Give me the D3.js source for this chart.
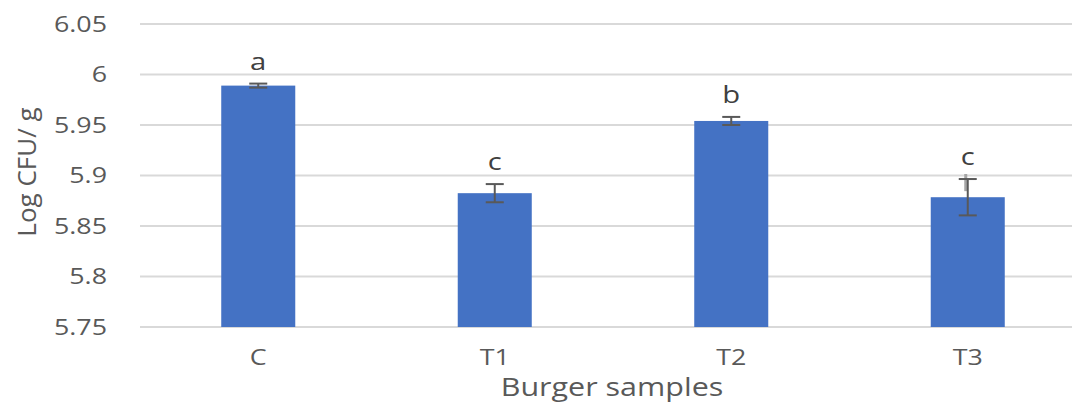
<!DOCTYPE html>
<html>
<head>
<meta charset="utf-8">
<script src="https://cdn.jsdelivr.net/npm/d3@7"></script>
<style>
  html, body { margin: 0; padding: 0; background: #fff; }
  svg { display: block; font-family: "Open Sans", sans-serif; }
</style>
</head>
<body>
<svg id="chart" width="1072" height="403"></svg>
<script>
// Microbial counts per burger sample
const categories = ["C", "T1", "T2", "T3"];
const means = [5.989, 5.8825, 5.954, 5.8785];
const errors = [0.002, 0.009, 0.004, 0.018];
const letters = ["a", "c", "b", "c"];
const yTicks = [5.75, 5.8, 5.85, 5.9, 5.95, 6, 6.05];

const svg = d3.select("#chart");

const x = d3.scaleBand()
  .domain(categories)
  .range([140, 1086])
  .paddingInner(0.687)
  .paddingOuter(0.3435);

const y = d3.scaleLinear()
  .domain([5.75, 6.05])
  .range([327, 24]);

const textColor = "#595959";
const stretch = 1.22;

// widen text horizontally around its own box
function widen(sel, origin) {
  sel.style("transform-box", "fill-box")
    .style("transform-origin", origin)
    .style("transform", `scaleX(${stretch})`);
}

// horizontal gridlines
svg.append("g")
  .selectAll("line")
  .data(yTicks)
  .join("line")
  .attr("x1", 140).attr("x2", 1072)
  .attr("y1", d => y(d)).attr("y2", d => y(d))
  .attr("stroke", "#d9d9d9")
  .attr("stroke-width", 2);

// y tick labels
const yAxis = d3.axisLeft(y)
  .tickValues(yTicks)
  .tickFormat(d => String(+d.toFixed(2)))
  .tickSize(0)
  .tickPadding(0);

const yg = svg.append("g")
  .attr("transform", "translate(107,0)")
  .call(yAxis);
yg.select(".domain").remove();
yg.selectAll("text")
  .attr("fill", textColor)
  .attr("font-size", 22)
  .attr("font-family", "Open Sans, sans-serif")
  .attr("text-anchor", "end")
  .call(widen, "right center");

// bars
svg.append("g")
  .selectAll("rect")
  .data(categories)
  .join("rect")
  .attr("x", d => x(d))
  .attr("y", (d, i) => y(means[i]))
  .attr("width", x.bandwidth())
  .attr("height", (d, i) => y(5.75) - y(means[i]))
  .attr("fill", "#4472c4");

// faint duplicate whisker above T3
const ti = 3;
const tx = x(categories[ti]) + x.bandwidth() / 2 - 2;
svg.append("line")
  .attr("x1", tx).attr("x2", tx)
  .attr("y1", y(means[ti] + 0.006)).attr("y2", y(means[ti] + errors[ti] + 0.005))
  .attr("stroke", "#a6a6a6").attr("stroke-width", 3);

// error bars
const eb = svg.append("g")
  .attr("stroke", "#595959")
  .attr("stroke-width", 2);
categories.forEach((c, i) => {
  const cx = x(c) + x.bandwidth() / 2;
  const y0 = y(means[i] - errors[i]);
  const y1 = y(means[i] + errors[i]);
  eb.append("line").attr("x1", cx).attr("x2", cx).attr("y1", y0).attr("y2", y1);
  eb.append("line").attr("x1", cx - 9).attr("x2", cx + 9).attr("y1", y0).attr("y2", y0);
  eb.append("line").attr("x1", cx - 9).attr("x2", cx + 9).attr("y1", y1).attr("y2", y1);
});

// significance letters
svg.append("g")
  .selectAll("text")
  .data(categories)
  .join("text")
  .attr("x", d => x(d) + x.bandwidth() / 2)
  .attr("y", (d, i) => y(means[i] + errors[i]) - 14)
  .attr("text-anchor", "middle")
  .attr("fill", "#404040")
  .attr("font-size", 24)
  .call(widen, "center")
  .text((d, i) => letters[i]);

// x category labels
const xAxis = d3.axisBottom(x).tickSize(0).tickPadding(0);
const xg = svg.append("g")
  .attr("transform", "translate(0,365)")
  .call(xAxis);
xg.select(".domain").remove();
xg.selectAll("text")
  .attr("dy", 0)
  .attr("fill", textColor)
  .attr("font-size", 22)
  .attr("font-family", "Open Sans, sans-serif")
  .call(widen, "center");

// axis titles
svg.append("text")
  .attr("x", 612)
  .attr("y", 396)
  .attr("text-anchor", "middle")
  .attr("fill", textColor)
  .attr("font-size", 25)
  .call(widen, "center")
  .text("Burger samples");

svg.append("text")
  .attr("transform", "translate(36,172) rotate(-90)")
  .attr("text-anchor", "middle")
  .attr("fill", textColor)
  .attr("font-size", 26)
  .text("Log CFU/ g");
</script>
</body>
</html>
